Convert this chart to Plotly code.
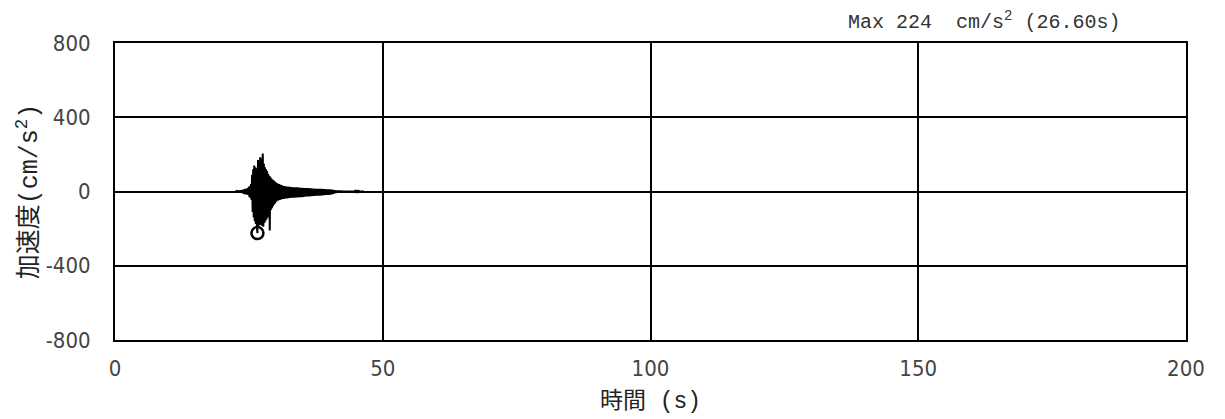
import numpy as np
import plotly.graph_objects as go

# acceleration record, sampled every 0.1 s starting at 22.5 s (cm/s^2)
t_start = 22.5
dt = 0.1
accel = [
    0, 1, -2, 3, -3,
    4, -5, 6, -4, 7, -6, 5, -8, 9, -7,
    10, -14, 12, -12, 15, -16, 14, -17, 18, -19,
    25, -30, 30, -35, 40, -45, 90, -110, 120, -140,
    140, -160, 130, -175, 125, -195, -224, 170, -185, 150,
    -180, 185, -175, 175, -185, 160, 205, -190, 150, -170,
    130, -160, 120, -150, 110, -140, 95, -130, 85, -210,
    80, -100, 70, -90, 65, -80, 60, -70, 55, -65,
    50, -55, 45, -50, 42, -48, 40, -45, 38, -44,
    35, -42, 33, -40, 30, -40, 30, -38, 28, -38,
    27, -37, 26, -36, 25, -35, 25, -35, 24, -34,
    24, -34, 23, -33, 23, -33, 22, -32, 22, -32,
    22, -32, 21, -31, 21, -30, 20, -30, 20, -30,
    20, -29, 19, -28, 19, -28, 18, -27, 18, -27,
    18, -26, 17, -26, 17, -25, 17, -25, 16, -24,
    16, -24, 16, -24, 15, -23, 15, -23, 15, -22,
    15, -22, 14, -22, 14, -21, 14, -21, 13, -20,
    13, -20, 13, -19, 12, -19, 12, -18, 12, -18,
    11, -17, 11, -16, 10, -15, 9, -13, 8, -11,
    7, -9, 6, -8, 6, -7, 5, -7, 5, -6,
    5, -6, 5, -5, 4, -5, 4, -5, 4, -5,
    4, -4, 4, -4, 3, -4, 3, -4, 3, -4,
    3, -3, 3, -3, 3, -3, 2, -3, 2, -2,
    2, -2, 2, -2, 2, -2, 1, -2, 1, -1,
    1, -1, 1, -1, 0, 0,
]
times = t_start + dt * np.arange(len(accel))

max_time = 26.60
max_value = -224

x_ticks = [0, 50, 100, 150, 200]
y_ticks = [-800, -400, 0, 400, 800]
y_labels = ["-800", "-400", "0", "400", "800"]

num_font = "DejaVu Sans Condensed, Liberation Sans Narrow, sans-serif"
jp_font = "Noto Sans CJK JP"
mono = "font-family:'Liberation Mono', monospace"

fig = go.Figure()
fig.add_trace(go.Scatter(x=times, y=accel, mode="lines",
                         line=dict(color="black", width=2),
                         hoverinfo="skip"))
fig.add_trace(go.Scatter(x=[max_time], y=[max_value], mode="markers",
                         marker=dict(symbol="circle-open", size=12,
                                     color="black", line=dict(width=2.5))))

fig.update_xaxes(range=[0, 200], tickvals=x_ticks, ticks="", automargin=False,
                 showgrid=True, gridcolor="black", gridwidth=2,
                 showline=True, linecolor="black", linewidth=2, mirror=True,
                 zeroline=False, ticklabelstandoff=8,
                 tickfont=dict(family=num_font, size=22, color="#444"),
                 title=dict(text=f"時間<span style=\"{mono}\"> (s)</span>", standoff=0,
                            font=dict(family=jp_font, size=23, color="#222")))
fig.update_yaxes(range=[-800, 800], tickvals=y_ticks, ticktext=y_labels, ticks="",
                 automargin=False,
                 showgrid=True, gridcolor="black", gridwidth=2,
                 showline=True, linecolor="black", linewidth=2, mirror=True,
                 zeroline=False, ticklabelstandoff=18,
                 tickfont=dict(family=num_font, size=22, color="#444"),
                 title=dict(text=f"加速度<span style=\"{mono}\">(cm/s<sup>2</sup>)</span>",
                            standoff=12,
                            font=dict(family=jp_font, size=25, color="#222")))

fig.add_annotation(text="Max 224  cm/s<sup>2</sup> (26.60s)",
                   xref="paper", yref="paper", x=0.94, y=1.0,
                   xanchor="right", yanchor="bottom", yshift=7, showarrow=False,
                   font=dict(family="Liberation Mono, monospace", size=20, color="#333"))

# the page body keeps its default 8px margin, so the margins below allow for it
fig.update_layout(width=1225, height=419, showlegend=False,
                  plot_bgcolor="white", paper_bgcolor="white",
                  margin=dict(l=107, r=47, t=35, b=87))

fig.write_html("out.html")
